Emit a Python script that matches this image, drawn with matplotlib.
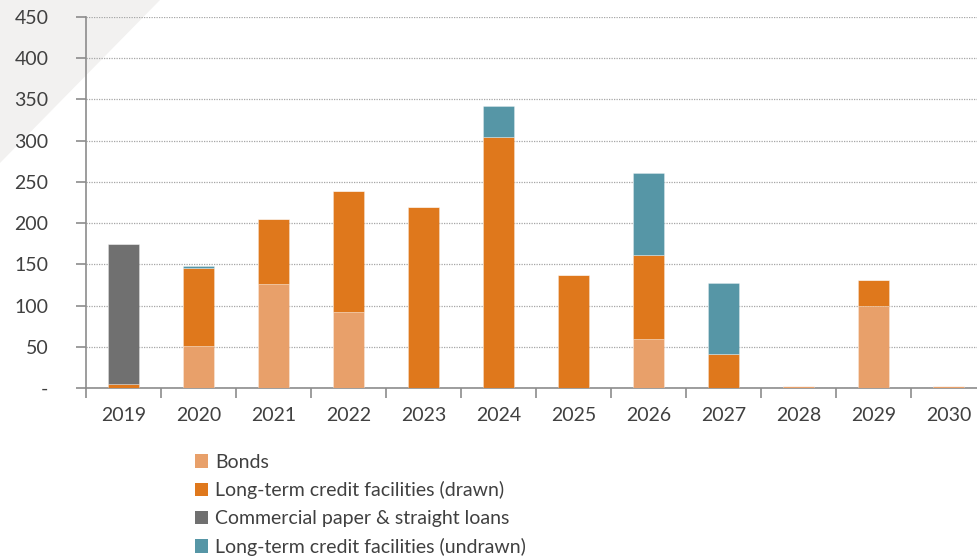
import numpy as np
import matplotlib.pyplot as plt
from matplotlib.patches import Patch, Polygon

plt.rcParams['font.family'] = ['Lato', 'DejaVu Sans']

years = ['2019', '2020', '2021', '2022', '2023', '2024',
         '2025', '2026', '2027', '2028', '2029', '2030']
bonds = [0, 51, 126, 92, 0, 0, 0, 60, 0, 3, 100, 3]
drawn = [5, 95, 79, 147, 220, 305, 137, 101, 41, 0, 31, 0]
cp_loans = [170, 0, 0, 0, 0, 0, 0, 0, 0, 0, 0, 0]
undrawn = [0, 1.5, 0, 0, 0, 37, 0, 100, 86, 0, 0, 0]

labels = ['Bonds', 'Long-term credit facilities (drawn)',
          'Commercial paper & straight loans', 'Long-term credit facilities (undrawn)']
colors = ['#E8A06A', '#DF781C', '#707070', '#5696A6']
text_col = '#404040'
axis_col = '#8C8C8C'

W, H = 978, 560
fig = plt.figure(figsize=(W / 100, H / 100), dpi=100)

# light grey corner triangle in the background
bg = fig.add_axes([0, 0, 1, 1], zorder=-1)
bg.set_axis_off()
bg.set_xlim(0, 1)
bg.set_ylim(0, 1)
bg.add_patch(Polygon([[0, 1], [160 / W, 1], [0, 1 - 163 / H]], closed=True,
                     facecolor='#F2F1F0', edgecolor='none'))

ax = fig.add_axes([86 / W, 1 - 388 / H, 900 / W, 371 / H])
ax.patch.set_alpha(0)

x = np.arange(len(years))
bottom = np.zeros(len(years))
for vals, c in zip([bonds, drawn, cp_loans, undrawn], colors):
    vals = np.array(vals, dtype=float)
    ax.bar(x, vals, width=0.41, bottom=bottom, color=c,
           edgecolor=(1, 1, 1, 0.5), linewidth=0.4, zorder=3)
    bottom += vals

ax.set_xlim(-0.5, len(years) - 0.5)
ax.set_ylim(0, 450)
ax.set_yticks(np.arange(0, 451, 50))
ax.set_yticklabels(['-'] + [str(v) for v in range(50, 451, 50)])
ax.grid(axis='y', linestyle=(0, (1, 1)), color='#A6A6A6', linewidth=0.9, zorder=0)

ax.set_xticks(x)
ax.set_xticklabels(years)
ax.set_xticks(np.arange(-0.5, len(years), 1), minor=True)
ax.tick_params(axis='x', which='major', length=0, pad=14, labelsize=14, labelcolor=text_col)
ax.tick_params(axis='x', which='minor', length=7, width=1.2, color=axis_col)
ax.tick_params(axis='y', length=7, width=1.2, color=axis_col, pad=20,
               labelsize=14, labelcolor=text_col)
for lab in ax.get_yticklabels():
    lab.set_horizontalalignment('right')

for s in ['top', 'right']:
    ax.spines[s].set_visible(False)
ax.spines['left'].set_color(axis_col)
ax.spines['left'].set_linewidth(1.2)
ax.spines['bottom'].set_color(axis_col)
ax.spines['bottom'].set_linewidth(1.2)

handles = [Patch(facecolor=c, edgecolor='none') for c in colors]
fig.legend(handles, labels, loc='upper left', bbox_to_anchor=(185 / W, 1 - 444 / H),
           frameon=False, fontsize=14, labelcolor=text_col, handlelength=0.7,
           handleheight=0.7, handletextpad=0.35, labelspacing=0.55, borderpad=0)

fig.savefig('out.png', dpi=100)
